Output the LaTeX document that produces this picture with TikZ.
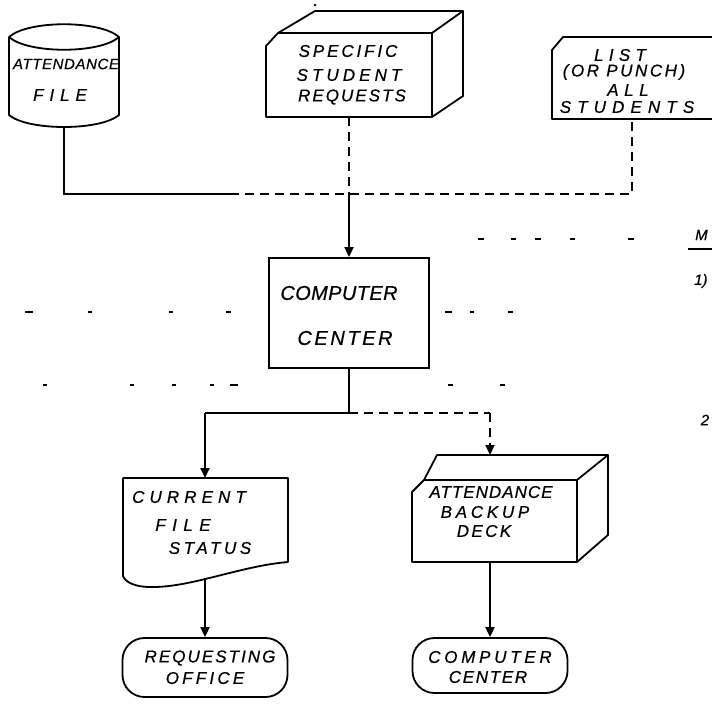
\documentclass[tikz,border=0pt]{standalone}
\usepackage{fontspec}
\newfontfamily\handfont[FakeBold=0.6]{Liberation Sans}
\usetikzlibrary{arrows.meta}
\newcommand\ls[1]{\addfontfeature{LetterSpace=#1}}
\begin{document}
\begin{tikzpicture}[x=1pt,y=-1pt,
  ln/.style={line width=1.8pt, line join=round},
  conn/.style={line width=1.8pt},
  dconn/.style={line width=1.8pt, dash pattern=on 9pt off 6pt},
  tip/.style={-{Triangle[length=10pt,width=9pt]}},
  txt/.style={font=\handfont\itshape\fontsize{17}{17}\selectfont, inner sep=0pt},
  smalltxt/.style={font=\handfont\itshape\fontsize{15}{15}\selectfont, inner sep=0pt},
  bigtxt/.style={font=\handfont\itshape\fontsize{20}{20}\selectfont, inner sep=0pt},
  boxnode/.style={draw, line width=1.8pt, inner sep=0pt},
  term/.style={draw, line width=1.8pt, rounded corners=22pt, inner sep=0pt},
  speck/.style={line width=1.4pt}]
\useasboundingbox (0,0) rectangle (712,704);

% ---------- shapes ----------
% attendance file (disk)
\draw[ln] (9,37) .. controls (28,20) and (100,20) .. (119,37)
  .. controls (100,54) and (28,54) .. (9,37) -- (9,115)
  .. controls (28,131) and (100,131) .. (119,115) -- (119,37);
\coordinate (cylbot) at (64,127);

% specific student requests (deck)
\draw[ln] (278,33) -- (432,33) -- (432,117) -- (266,117) -- (266,46) -- cycle;
\draw[ln] (278,33) -- (315,11) -- (463,11) -- (432,33);
\draw[ln] (463,11) -- (463,96) -- (432,117);
\coordinate (specbot) at (349,117);
\fill (315,5) circle (1.3pt);

% list all students (card)
\draw[ln] (714,37) -- (563,37) -- (552,50) -- (552,119) -- (714,119);
\coordinate (listbot) at (632,119);

% computer center
\node[boxnode, minimum width=160pt, minimum height=110pt] (cc) at (349,313) {};

% current file status (document)
\draw[ln] (123,478) -- (288,478) -- (288,562)
  .. controls (240,566) and (190,588) .. (150,587)
  .. controls (135,587) and (125,582) .. (123,576) -- cycle;
\coordinate (doctop) at (205,478);
\coordinate (docbot) at (205,578);

% attendance backup deck
\draw[ln] (424,480) -- (577,480) -- (577,562) -- (412,562) -- (412,492) -- cycle;
\draw[ln] (424,480) -- (437,455) -- (608,455) -- (577,480);
\draw[ln] (608,455) -- (608,535) -- (577,562);
\coordinate (decktop) at (490,455);
\coordinate (deckbot) at (490,562);

% terminals
\node[term, minimum width=165pt, minimum height=59pt] (req) at (205,667.5) {};
\node[term, minimum width=155pt, minimum height=55pt] (cct) at (490,665.5) {};

% ---------- junctions ----------
\coordinate (jleft) at (64,194);
\coordinate (jfade) at (230,194);
\coordinate (jmid) at (349,194);
\coordinate (jright) at (632,194);
\coordinate (jb) at (349,413);
\coordinate (jbl) at (205,413);
\coordinate (jbr) at (490,413);

% ---------- connectors ----------
\draw[conn] (cylbot) -- (jleft) -- (jfade);
\draw[dconn] (jfade) -- (jmid) -- (jright) -- (listbot);
\draw[dconn] (specbot) -- (jmid);
\draw[conn,tip] (jmid) -- (cc.north);
\draw[conn] (cc.south) -- (jb) -- (jbl);
\draw[conn,tip] (jbl) -- (doctop);
\draw[dconn] (jb) -- (jbr);
\draw[dconn,tip] (jbr) -- (decktop);
\draw[conn,tip] (docbot) -- (req.north);
\draw[conn,tip] (deckbot) -- (cct.north);

% ---------- texts ----------
\node[smalltxt] (t1) at (66,64) {\ls{4}ATTENDANCE};
\node[txt] (t2) at (60,95) {\ls{35}FILE};

\node[txt] (s1) at (348,51) {\ls{17}SPECIFIC};
\node[txt] (s2) at (349,75) {\ls{24}STUDENT};
\node[txt] (s3) at (352,97) {\ls{12}REQUESTS};

\node[txt] (l1) at (620,55) {\ls{31}LIST};
\node[txt] (l2) at (624,72) {\ls{15}(OR PUNCH)};
\node[txt] (l3) at (628,90) {\ls{33}ALL};
\node[txt] (l4) at (627,107) {\ls{36}STUDENTS};

\node[bigtxt] (c1) at (339,293) {\ls{2}COMPUTER};
\node[bigtxt] (c2) at (345,338) {\ls{13}CENTER};

\node[txt] (d1) at (189,497) {\ls{30}CURRENT};
\node[txt] (d2) at (183,525) {\ls{38}FILE};
\node[txt] (d3) at (210,548) {\ls{21}STATUS};

\node[txt] (r1) at (210,658) {\ls{12}REQUESTING};
\node[txt] (r2) at (205,678) {\ls{19}OFFICE};

\node[txt] (b1) at (491,492) {\ls{6}ATTENDANCE};
\node[txt] (b2) at (485,512) {\ls{22}BACKUP};
\node[txt] (b3) at (484,531) {\ls{14}DECK};

\node[txt] (e1) at (490,657) {\ls{22}COMPUTER};
\node[txt] (e2) at (488,677) {\ls{10}CENTER};

% right-edge fragments
\node[smalltxt, anchor=west] (m1) at (695,235) {M};
\draw[speck] (688,249) -- (714,249);
\node[smalltxt, anchor=west] (m2) at (694,281) {1)};
\node[smalltxt] (m3) at (705,420) {2};

% ---------- faint form lines ----------
\foreach \a/\b in {478/484, 511/516, 535/541, 570/575, 628/634}
  \draw[speck] (\a,239) -- (\b,239);
\foreach \a/\b in {25/33, 88/92, 169/173, 226/231, 445/452, 470/474, 508/513}
  \draw[speck] (\a,312) -- (\b,312);
\foreach \a/\b in {43/47, 130/134, 172/176, 210/214, 230/238, 448/453, 500/505}
  \draw[speck] (\a,385) -- (\b,385);
\end{tikzpicture}
\end{document}
